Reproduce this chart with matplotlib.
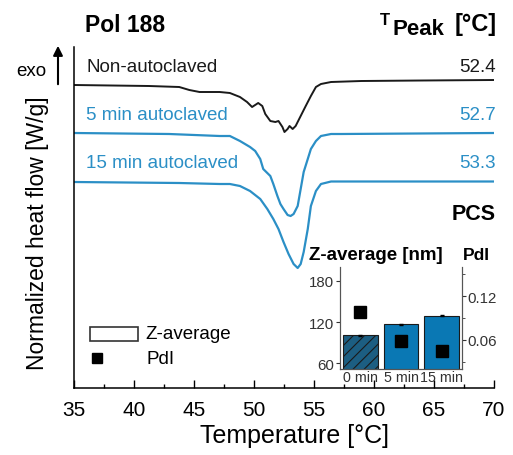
import matplotlib.pyplot as plt
import matplotlib.patches as mpatches
import numpy as np

plt.rcParams['font.family'] = ['Liberation Sans', 'DejaVu Sans']
plt.rcParams['hatch.color'] = '#5fa8d0'
plt.rcParams['hatch.linewidth'] = 0.8

# DSC curves (heat flow in arbitrary offset units)
t_non = [35.0, 41.24, 43.77, 44.61, 45.46, 46.30, 47.14, 47.99, 48.83, 49.42, 49.84, 50.35,
         50.69, 50.94, 51.36, 51.78, 52.04, 52.37, 52.54, 52.80, 52.96, 53.22, 53.47, 53.89,
         54.31, 54.74, 55.16, 55.58, 56.42, 58.95, 64.01, 70.0]
hf_non = [2.94, 2.93, 2.92, 2.89, 2.87, 2.87, 2.87, 2.86, 2.82, 2.77, 2.72, 2.76,
          2.73, 2.65, 2.58, 2.57, 2.58, 2.52, 2.47, 2.50, 2.53, 2.50, 2.53, 2.63,
          2.73, 2.83, 2.92, 2.95, 2.97, 2.98, 2.985, 2.99]

t_5 = [35.0, 42.93, 47.14, 47.99, 48.83, 49.67, 50.10, 50.52, 50.77, 51.36, 51.61, 51.95,
       52.20, 52.46, 52.80, 53.05, 53.30, 53.64, 53.89, 54.14, 54.48, 54.74, 55.16, 55.58,
       56.42, 57.27, 70.0]
hf_5 = [2.46, 2.45, 2.43, 2.43, 2.38, 2.32, 2.28, 2.20, 2.10, 2.03, 1.95, 1.83,
        1.75, 1.70, 1.64, 1.63, 1.65, 1.73, 1.90, 2.07, 2.20, 2.30, 2.38, 2.43,
        2.45, 2.45, 2.46]

t_15 = [35.0, 43.77, 47.14, 47.99, 48.83, 49.67, 50.52, 51.11, 51.61, 52.04, 52.46, 52.88,
        53.30, 53.64, 53.89, 54.14, 54.48, 54.74, 55.16, 55.58, 56.42, 57.27, 70.0]
hf_15 = [1.97, 1.96, 1.95, 1.95, 1.93, 1.88, 1.80, 1.70, 1.60, 1.50, 1.37, 1.25,
         1.15, 1.11, 1.15, 1.27, 1.50, 1.73, 1.88, 1.95, 1.975, 1.975, 1.975]

labels = ['Non-autoclaved', '5 min autoclaved', '15 min autoclaved']
t_peak = ['52.4', '52.7', '53.3']

# PCS inset
pcs_cats = ['0 min', '5 min', '15 min']
z_avg = [101, 117, 129]
pdi = [0.098, 0.058, 0.045]

black = '#1a1a1a'
blue = '#2b8fc6'
bar_blue = '#0a78b4'
bar_dark = '#1c5e82'

fig = plt.figure(figsize=(5.13, 4.56), dpi=100)
ax = fig.add_axes([74 / 513, 1 - 389 / 456, 420 / 513, 341 / 456])

ax.plot(t_non, hf_non, color=black, lw=1.4, solid_joinstyle='round')
ax.plot(t_5, hf_5, color=blue, lw=1.6, solid_joinstyle='round')
ax.plot(t_15, hf_15, color=blue, lw=1.6, solid_joinstyle='round')

ax.set_xlim(35, 70)
ax.set_ylim(-0.09, 3.32)
ax.set_xticks(np.arange(35, 71, 5))
ax.set_xticks(np.arange(37.5, 70, 5), minor=True)
ax.set_yticks([])
ax.tick_params(axis='x', direction='in', length=6, width=1, labelsize=15, pad=9)
ax.tick_params(axis='x', which='minor', direction='in', length=3, width=1)
for s in ['top', 'right']:
    ax.spines[s].set_visible(False)
ax.spines['left'].set_linewidth(1.1)
ax.spines['bottom'].set_linewidth(1.1)
fig.text(295 / 513, 1 - 443 / 456, 'Temperature [°C]', fontsize=18, ha='center', va='baseline')
fig.text(38 / 513, 1 - 233 / 456, 'Normalized heat flow [W/g]', rotation=90,
         ha='center', va='center', fontsize=16.5)

# curve labels and peak temperatures
label_y = [68, 116, 164]
cols = [black, blue, blue]
for lab, tp, y, c in zip(labels, t_peak, label_y, cols):
    fig.text(86 / 513, 1 - y / 456, lab, color=c, fontsize=13.5, ha='left', va='center')
    fig.text(496 / 513, 1 - y / 456, tp, color=c, fontsize=13.5, ha='right', va='center')

fig.text(85 / 513, 1 - 32 / 456, 'Pol 188', fontsize=16.5, fontweight='bold', va='baseline')
fig.text(380 / 513, 1 - 25 / 456, 'T', fontsize=12, fontweight='bold', va='baseline')
fig.text(393 / 513, 1 - 35 / 456, 'Peak', fontsize=16, fontweight='bold', va='baseline')
fig.text(497 / 513, 1 - 31 / 456, '[°C]', fontsize=17, fontweight='bold', va='baseline',
         ha='right')
fig.text(496 / 513, 1 - 215 / 456, 'PCS', fontsize=15.5, fontweight='bold', va='center', ha='right')
fig.text(46 / 513, 1 - 72 / 456, 'exo', fontsize=13.5, ha='right', va='center')
fig.patches.append(mpatches.FancyArrowPatch(
    (58 / 513, 1 - 88 / 456), (58 / 513, 1 - 44 / 456), transform=fig.transFigure,
    arrowstyle='-|>', mutation_scale=14, lw=1.5, color='black'))

# legend for inset markers
fig.patches.append(mpatches.Rectangle(
    (90 / 513, 1 - 342 / 456), 48 / 513, 14 / 456, transform=fig.transFigure,
    facecolor='white', edgecolor='#333333', lw=1.2))
fig.patches.append(mpatches.Rectangle(
    (92 / 513, 1 - 364 / 456), 10 / 513, 10 / 456, transform=fig.transFigure,
    facecolor='black', edgecolor='black'))
fig.text(145 / 513, 1 - 335 / 456, 'Z-average', fontsize=13.5, va='center')
fig.text(146 / 513, 1 - 360 / 456, 'PdI', fontsize=13.5, va='center')

# inset
ins = fig.add_axes([340 / 513, 1 - 370 / 456, 122 / 513, 102 / 456])
x = np.arange(len(pcs_cats))
bars = ins.bar(x, z_avg, width=0.85, color=[bar_dark, bar_blue, bar_blue],
               edgecolor='#1a1a1a', lw=0.8)
bars[0].set_hatch('///')
ins.errorbar(x, z_avg, yerr=[0.8, 0.8, 0.8], fmt='none', ecolor='black', capsize=1.5, lw=0.6)
ins.set_xlim(-0.5, 2.5)
ins.set_ylim(52, 200)
ins.set_yticks([60, 120, 180])
ins.set_xticks(x)
ins.set_xticklabels(pcs_cats)
ins.tick_params(labelsize=10.8, length=3, pad=1, colors='#333333', labelcolor='#333333')
ins.tick_params(axis='x', length=0, pad=1, labelsize=10.3)
ins2 = ins.twinx()
ins2.plot(x, pdi, 's', color='black', ms=9)
ins2.set_ylim(0.02, 0.16)
ins2.set_yticks([0.06, 0.12])
ins2.set_yticklabels(['0.06', '0.12'])
ins2.set_yticks([0.03, 0.09, 0.15], minor=True)
ins2.tick_params(labelsize=10.8, length=3, pad=1, colors='#333333', labelcolor='#333333')
ins2.tick_params(which='minor', length=2, colors='#333333')
for a in (ins, ins2):
    a.spines['top'].set_visible(False)
    for s in ['left', 'right', 'bottom']:
        a.spines[s].set_color('#555555')
        a.spines[s].set_linewidth(0.8)
fig.text(309 / 513, 1 - 255 / 456, 'Z-average [nm]', fontsize=13.5, fontweight='bold', va='center')
fig.text(463 / 513, 1 - 255 / 456, 'PdI', fontsize=12.5, fontweight='bold', va='center')

fig.savefig('out.png', dpi=100)
